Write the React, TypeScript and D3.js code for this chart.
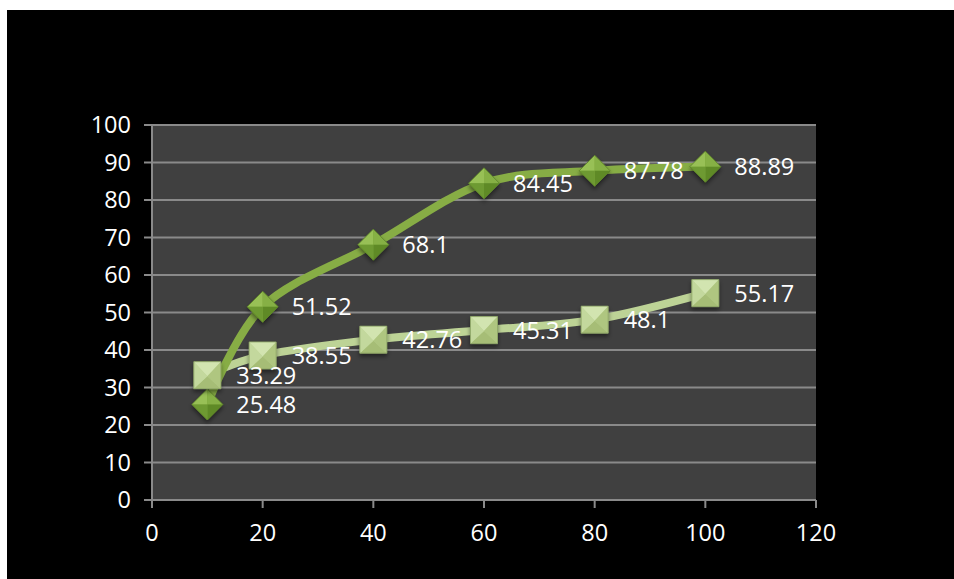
import React from "react";
import * as d3 from "d3";

const xValues = [10, 20, 40, 60, 80, 100];
const series1 = [25.48, 51.52, 68.1, 84.45, 87.78, 88.89];
const series2 = [33.29, 38.55, 42.76, 45.31, 48.1, 55.17];
const xTicks = [0, 20, 40, 60, 80, 100, 120];
const yTicks = [0, 10, 20, 30, 40, 50, 60, 70, 80, 90, 100];

const W = 954;
const H = 579;
const plot = { left: 152, top: 125, right: 816, bottom: 500 };
const FONT = "'Open Sans', 'Noto Sans', sans-serif";
const FS = 23.5;

export default function App() {
  const x = d3.scaleLinear().domain([0, 120]).range([plot.left, plot.right]);
  const y = d3.scaleLinear().domain([0, 100]).range([plot.bottom, plot.top]);
  const line = d3
    .line<[number, number]>()
    .x((d) => x(d[0]))
    .y((d) => y(d[1]))
    .curve(d3.curveCardinal.tension(0));
  const pts1: [number, number][] = xValues.map((v, i) => [v, series1[i]]);
  const pts2: [number, number][] = xValues.map((v, i) => [v, series2[i]]);
  const p = (a: number[][]) => a.map((q) => q.join(",")).join(" ");

  const diamond = (cx: number, cy: number, key: string) => {
    const r = 15.5;
    const t = [cx, cy - r], rr = [cx + r, cy], b = [cx, cy + r], l = [cx - r, cy];
    const ic = [cx, cy];
    return (
      <g key={key} filter="url(#shadow)">
        <polygon points={p([t, rr, b, l])} fill="#7aa63a" />
        <polygon points={p([l, t, ic])} fill="#98c056" />
        <polygon points={p([t, rr, ic])} fill="#86b044" />
        <polygon points={p([rr, b, ic])} fill="#5f8a28" />
        <polygon points={p([b, l, ic])} fill="#6e9a30" />
        <polygon points={p([t, rr, b, l])} fill="none" stroke="#5a7f2a" strokeWidth={0.8} />
      </g>
    );
  };

  const square = (cx: number, cy: number, key: string) => {
    const r = 13.5;
    const tl = [cx - r, cy - r], tr = [cx + r, cy - r], br = [cx + r, cy + r], bl = [cx - r, cy + r];
    const ic = [cx, cy + 1];
    return (
      <g key={key} filter="url(#shadow)">
        <polygon points={p([tl, tr, br, bl])} fill="#bed493" />
        <polygon points={p([tl, tr, ic])} fill="#d2e4b0" />
        <polygon points={p([tr, br, ic])} fill="#afc680" />
        <polygon points={p([br, bl, ic])} fill="#a6bd76" />
        <polygon points={p([bl, tl, ic])} fill="#c3d89d" />
        <polygon points={p([tl, tr, br, bl])} fill="none" stroke="#8ca364" strokeWidth={0.8} />
      </g>
    );
  };

  return (
    <svg
      width={W}
      height={H}
      style={{ position: "absolute", left: 0, top: 0, display: "block" }}
    >
      <defs>
        <filter id="shadow" x="-50%" y="-50%" width="200%" height="200%">
          <feDropShadow dx="0" dy="3" stdDeviation="2" floodColor="#000" floodOpacity="0.45" />
        </filter>
      </defs>
      <rect x={0} y={0} width={W} height={H} fill="#ffffff" />
      <rect x={7} y={10} width={W - 7} height={H - 10} fill="#000000" />
      <rect
        x={plot.left}
        y={plot.top}
        width={plot.right - plot.left}
        height={plot.bottom - plot.top}
        fill="#404040"
      />
      {yTicks.map((t) => (
        <g key={"y" + t}>
          <line
            x1={plot.left - 8}
            x2={plot.right}
            y1={y(t)}
            y2={y(t)}
            stroke="#8a8a8a"
            strokeWidth={2}
          />
          <text
            x={131}
            y={y(t)}
            dy="0.36em"
            textAnchor="end"
            fill="#ffffff"
            fontFamily={FONT}
            fontSize={FS}
          >
            {t}
          </text>
        </g>
      ))}
      <line x1={plot.left} x2={plot.left} y1={plot.top} y2={plot.bottom} stroke="#8a8a8a" strokeWidth={2} />
      {xTicks.map((t) => (
        <g key={"x" + t}>
          <line x1={x(t)} x2={x(t)} y1={plot.bottom} y2={plot.bottom + 8} stroke="#8a8a8a" strokeWidth={2} />
          <text
            x={x(t)}
            y={541}
            textAnchor="middle"
            fill="#ffffff"
            fontFamily={FONT}
            fontSize={FS}
          >
            {t}
          </text>
        </g>
      ))}
      <path d={line(pts2) || ""} fill="none" stroke="#bdd396" strokeWidth={8} strokeLinecap="round" />
      <path d={line(pts1) || ""} fill="none" stroke="#87ad45" strokeWidth={8} strokeLinecap="round" />
      {pts1.map((d, i) => diamond(x(d[0]), y(d[1]), "d" + i))}
      {pts2.map((d, i) => square(x(d[0]), y(d[1]), "s" + i))}
      {pts1.map((d, i) => (
        <text
          key={"l1" + i}
          x={x(d[0]) + 29}
          y={y(d[1])}
          dy="0.36em"
          fill="#ffffff"
          fontFamily={FONT}
          fontSize={FS}
        >
          {series1[i]}
        </text>
      ))}
      {pts2.map((d, i) => (
        <text
          key={"l2" + i}
          x={x(d[0]) + 29}
          y={y(d[1])}
          dy="0.36em"
          fill="#ffffff"
          fontFamily={FONT}
          fontSize={FS}
        >
          {series2[i]}
        </text>
      ))}
    </svg>
  );
}
